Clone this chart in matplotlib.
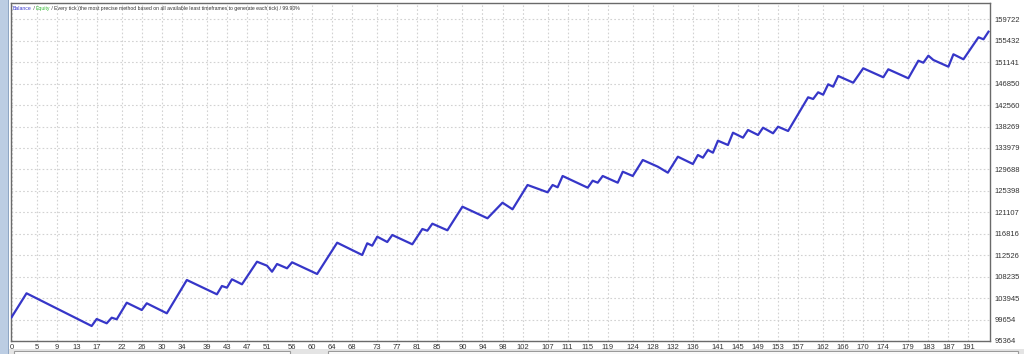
import matplotlib
matplotlib.use("Agg")
import matplotlib.pyplot as plt
from matplotlib.patches import Rectangle

# ---- data (trade index at each turning point, balance) ----
trade_idx = [0, 1, 3, 16, 17, 19, 20, 21, 23, 26, 27, 31, 35, 41, 42, 43, 44, 46,
             49, 51, 52, 53, 55, 56, 61, 65, 70, 71, 72, 73, 75, 76, 80, 82, 83,
             84, 87, 90, 95, 98, 100, 103, 107, 108, 109, 110, 115, 116, 117, 118,
             121, 122, 124, 126, 129, 131, 133, 136, 137, 138, 139, 140, 141, 143,
             144, 146, 147, 149, 150, 152, 153, 155, 159, 160, 161, 162, 163, 164,
             165, 168, 170, 174, 175, 179, 181, 182, 183, 184, 187, 188, 190, 193,
             194, 195]
balance = [100105, 101705, 104905, 98364, 99765, 98905, 100025, 99705, 103025,
           101565, 102905, 100905, 107566, 104705, 106366, 106026, 107706, 106706,
           111226, 110426, 109226, 110766, 109906, 111106, 108766, 115027, 112567,
           114907, 114427, 116227, 115167, 116567, 114707, 117767, 117427, 118828,
           117507, 122228, 119908, 123028, 121708, 126569, 125108, 126569, 126109,
           128369, 126029, 127429, 127029, 128369, 127029, 129229, 128369, 131569,
           130229, 129029, 132230, 130769, 132570, 132029, 133570, 133030, 135430,
           134570, 137030, 136030, 137570, 136570, 138030, 136910, 138230, 137370,
           144111, 143771, 145111, 144631, 146712, 146232, 148372, 147032, 149912,
           148112, 149712, 147912, 151432, 151032, 152433, 151572, 150232, 152713,
           151712, 156113, 155713, 157233]

x_tick_labels = [0, 5, 9, 13, 17, 22, 26, 30, 34, 39, 43, 47, 51, 56, 60, 64, 68,
                 73, 77, 81, 85, 90, 94, 98, 102, 107, 111, 115, 119, 124, 128, 132,
                 136, 141, 145, 149, 153, 157, 162, 166, 170, 174, 179, 183, 187, 191]
y_tick_labels = [95364, 99654, 103945, 108235, 112526, 116816, 121107, 125398,
                 129688, 133979, 138269, 142560, 146850, 151141, 155432, 159722]

plt.rcParams["font.family"] = ["Liberation Sans", "DejaVu Sans"]

W, H = 1024, 354
fig = plt.figure(figsize=(W / 100, H / 100), dpi=100)
fig.patch.set_facecolor("white")

# window chrome: left strip and bottom bar
fig.add_artist(Rectangle((0, 0), 8 / W, 1, transform=fig.transFigure,
                         facecolor="#bccde3", edgecolor="none", zorder=0))
fig.add_artist(Rectangle((8 / W, 0), 1 / W, 1, transform=fig.transFigure,
                         facecolor="#8fa6c4", edgecolor="none", zorder=0))
fig.add_artist(Rectangle((9 / W, 0), (W - 9) / W, 5 / H, transform=fig.transFigure,
                         facecolor="#e4e4e4", edgecolor="none", zorder=0))
fig.add_artist(Rectangle((14 / W, 0), 276 / W, 3.5 / H, transform=fig.transFigure,
                         facecolor="white", edgecolor="#9a9a9a", lw=0.8, zorder=1))
fig.add_artist(Rectangle((328 / W, 0), 690 / W, 3.5 / H, transform=fig.transFigure,
                         facecolor="white", edgecolor="#9a9a9a", lw=0.8, zorder=1))

left, right, top, bottom = 11, 990, 3, 341
ax = fig.add_axes([left / W, 1 - bottom / H, (right - left) / W, (bottom - top) / H])
ax.set_facecolor("white")

ax.plot(trade_idx, balance, color="#3636c8", lw=1.6, solid_joinstyle="round", zorder=3)

step = (y_tick_labels[-1] - y_tick_labels[0]) / (len(y_tick_labels) - 1)
ax.set_ylim(y_tick_labels[0], y_tick_labels[0] + step * (bottom - top) / 21.45)
ax.set_xlim(-0.1, 195.3)

ax.set_xticks(x_tick_labels)
ax.set_xticklabels([str(v) for v in x_tick_labels])
ax.set_yticks(y_tick_labels)
ax.set_yticklabels([str(v) for v in y_tick_labels])
ax.yaxis.tick_right()
ax.tick_params(axis="both", length=0, labelsize=5.5, colors="#333333")
ax.tick_params(axis="y", pad=3)
ax.tick_params(axis="x", pad=2)

ax.grid(True, color="#d2d2d2", linestyle=(0, (1.5, 2)), lw=0.8, zorder=0)
for s in ax.spines.values():
    s.set_color("#6a6a6a")
    s.set_linewidth(1.0)

# header text
fs = 3.7
t1 = ax.text(0.002, 0.99, "Balance", transform=ax.transAxes, fontsize=fs,
             color="#3a3acc", va="top", ha="left")
fig.canvas.draw()
r = fig.canvas.get_renderer()
def after(prev, txt, col):
    bb = prev.get_window_extent(r)
    x = ax.transAxes.inverted().transform((bb.x1, bb.y1))[0]
    t = ax.text(x, 0.99, txt, transform=ax.transAxes, fontsize=fs,
                color=col, va="top", ha="left")
    fig.canvas.draw()
    return t
t2 = after(t1, " / ", "#333333")
t3 = after(t2, "Equity", "#33b833")
t4 = after(t3, " / Every tick (the most precise method based on all available least "
               "timeframes to generate each tick) / 99.90%", "#333333")

fig.savefig("out.png", dpi=100, facecolor=fig.get_facecolor())
